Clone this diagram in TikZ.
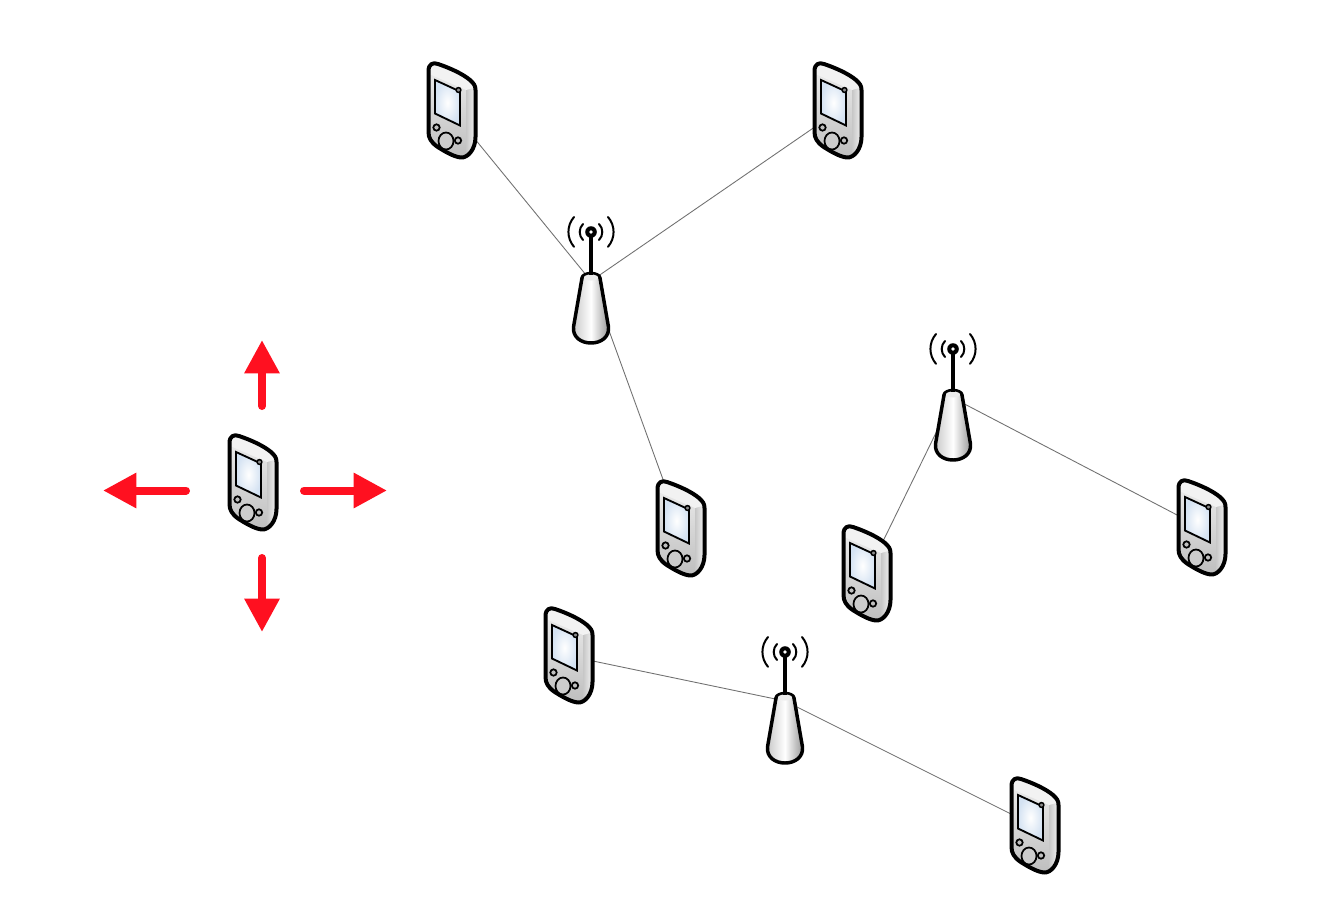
\documentclass[tikz,border=0pt]{standalone}
\usetikzlibrary{arrows.meta}
\definecolor{alertred}{HTML}{FF1020}
\definecolor{linkgray}{HTML}{707070}
\definecolor{screenblue}{HTML}{D4E2F2}
\tikzset{
  x=0.75pt,y=-0.75pt,
  anchorbox/.style={inner sep=0pt,outer sep=0pt,minimum width=37.5pt,minimum height=75pt},
  towerbox/.style={inner sep=0pt,outer sep=0pt,minimum width=33pt,minimum height=87pt},
  link/.style={draw=linkgray,line width=0.65pt},
  move/.style={draw=alertred,line width=6pt,line cap=round,-{Triangle[length=25pt,width=25pt,fill=alertred]}},
  phone/.pic={
    \def\bodypath{(-23.5,-40) .. controls (-23.5,-47) and (-19,-49) .. (-14,-47)
      .. controls (-2,-43) and (11,-37) .. (18,-31) .. controls (22,-27.5) and (23.5,-25) .. (23.5,-21)
      -- (23.5,26) .. controls (23.5,38) and (16,47) .. (9,46.5)
      .. controls (2,46) and (-8,40) .. (-15,35.5) .. controls (-21,31) and (-23.5,27) .. (-23.5,21) -- cycle}
    \begin{scope}
      \clip \bodypath;
      \shade[top color=black!6,bottom color=black!26] (-25,-50) rectangle (14,49);
      \shade[left color=black!22,right color=black!4] (14,-50) rectangle (24,49);
      \fill[black!5] (-25,-50) -- (25,-50) -- (25,-24) -- (14,-21) -- (-25,-38) -- cycle;
      \fill[black!24] (-25,26) -- (8,44) -- (16,49) -- (-25,49) -- cycle;
    \end{scope}
    \draw[line width=3pt,line join=round] \bodypath;
    \shade[inner color=white,outer color=screenblue] (-17,-31) -- (8,-19.5) -- (8,14.5) -- (-17,2.5) -- cycle;
    \draw[line width=1.4pt,line join=miter] (-17,-31) -- (8,-19.5) -- (8,14.5) -- (-17,2.5) -- cycle;
    \draw[line width=1.1pt,fill=black!45] (6.5,-21) circle[radius=2.4];
    \draw[line width=1.3pt,fill=black!25] (-15.5,16.5) circle[radius=3.2];
    \draw[line width=1.3pt,fill=black!25] (6,29.5) circle[radius=3.2];
    \draw[line width=1.3pt,fill=black!20] (-6,30) ellipse[x radius=7.5,y radius=8.5];
  },
  tower/.pic={
    \def\towerpath{(-9,-3) -- (-17.5,46) .. controls (-18.5,56) and (-10,62) .. (0,62)
      .. controls (10,62) and (18.5,56) .. (17.5,46) -- (9,-3)
      .. controls (8,-9) and (-8,-9) .. (-9,-3) -- cycle}
    \shade[left color=black!22,right color=black!42,middle color=white] \towerpath;
    \draw[line width=2.6pt,line join=round] \towerpath;
    \fill[black!8] (0,-3.5) ellipse[x radius=7,y radius=3];
    \draw[line width=2.6pt,line cap=butt] (0,-49) -- (0,-6);
    \fill[black] (0,-49) circle[radius=5.8];
    \fill[white] (0,-49) circle[radius=1.8];
    \begin{scope}[shift={(0,-49)},line width=1.5pt,line cap=round]
      \draw (-8,-8) arc[start angle=225,end angle=135,radius=11.3];
      \draw (8,-8) arc[start angle=-45,end angle=45,radius=11.3];
      \draw (-17,-15) arc[start angle=221,end angle=139,radius=22.7];
      \draw (17,-15) arc[start angle=-41,end angle=41,radius=22.7];
    \end{scope}
  }
}
\begin{document}
\begin{tikzpicture}
\useasboundingbox (0,0) rectangle (1322,918);
\fill[white] (0,0) rectangle (1322,918);
% node places
\node[anchorbox] (p0) at (253,483) {};
\node[anchorbox] (p1) at (452,111) {};
\node[anchorbox] (p2) at (838,111) {};
\node[anchorbox] (p3) at (681,529) {};
\node[anchorbox] (p4) at (867,574) {};
\node[anchorbox] (p5) at (1202,528) {};
\node[anchorbox] (p6) at (569,656) {};
\node[anchorbox] (p7) at (1035,826) {};
\node[towerbox] (t1) at (591,281) {};
\node[towerbox] (t2) at (953,398) {};
\node[towerbox] (t3) at (785,701) {};
% links
\draw[link] (p1.center) -- (t1.center);
\draw[link] (p2.center) -- (t1.center);
\draw[link] (p3.center) -- (t1.center);
\draw[link] (p4.center) -- (t2.center);
\draw[link] (p5.center) -- (t2.center);
\draw[link] (p6.center) -- (t3.center);
\draw[link] (p7.center) -- (t3.center);
% icons
\foreach \n in {p0,p1,p2,p3,p4,p5,p6,p7} {\pic at (\n.center) {phone};}
\foreach \n in {t1,t2,t3} {\pic at (\n.center) {tower};}
% movement arrows
\coordinate (upA) at (262,406);   \coordinate (upB) at (262,340);
\coordinate (dnA) at (262,558);   \coordinate (dnB) at (262,632);
\coordinate (ltA) at (186,490.5); \coordinate (ltB) at (103,490.5);
\coordinate (rtA) at (304,490.5); \coordinate (rtB) at (387,490.5);
\draw[move] (upA) -- (upB);
\draw[move] (dnA) -- (dnB);
\draw[move] (ltA) -- (ltB);
\draw[move] (rtA) -- (rtB);
\end{tikzpicture}
\end{document}
